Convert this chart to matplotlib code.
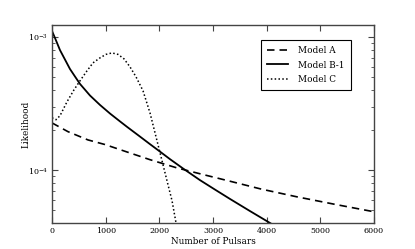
import numpy as np
import matplotlib
matplotlib.use("Agg")
import matplotlib.pyplot as plt
from matplotlib.ticker import LogLocator, FixedLocator, NullFormatter

plt.rcParams['font.family'] = ['DejaVu Serif']
plt.rcParams['mathtext.fontset'] = 'dejavuserif'

# Model A (dashed)
a_x = [0, 298, 670, 987, 1400, 1825, 2328, 2800, 3315, 3900, 4562, 5300, 6000]
a_y = [2.27e-4, 1.95e-4, 1.69e-4, 1.56e-4, 1.37e-4, 1.20e-4, 1.04e-4, 9.3e-5, 8.26e-5,
       7.2e-5, 6.3e-5, 5.5e-5, 4.86e-5]

# Model B-1 (solid)
b_x = [0, 75, 149, 242, 335, 429, 522, 708, 894, 1081, 1267, 1398, 1640, 1826,
       2012, 2199, 2441, 2758, 3037, 3317, 3689, 4081, 4248]
b_y = [1.119e-3, 9.48e-4, 8.02e-4, 6.81e-4, 5.78e-4, 5.07e-4, 4.46e-4, 3.65e-4, 3.10e-4,
       2.67e-4, 2.33e-4, 2.12e-4, 1.79e-4, 1.57e-4, 1.38e-4, 1.21e-4, 1.03e-4, 8.41e-5,
       7.14e-5, 6.07e-5, 4.92e-5, 3.96e-5, 3.60e-5]

# Model C (dotted)
c_x = [0, 75, 149, 279, 410, 522, 652, 764, 894, 1006, 1118, 1230, 1342, 1453, 1565,
       1696, 1826, 1956, 2068, 2161, 2236, 2310, 2348]
c_y = [2.48e-4, 2.40e-4, 2.57e-4, 3.27e-4, 4.03e-4, 4.71e-4, 5.60e-4, 6.43e-4, 7.01e-4,
       7.45e-4, 7.64e-4, 7.45e-4, 6.89e-4, 6.00e-4, 5.05e-4, 3.96e-4, 2.70e-4, 1.67e-4,
       1.10e-4, 7.78e-5, 5.90e-5, 4.03e-5, 3.27e-5]

fig = plt.figure(figsize=(4.15, 2.49), dpi=100)
ax = fig.add_axes([52 / 415, 1 - 223 / 249, (374 - 52) / 415, (223 - 25) / 249])

ax.plot(a_x, a_y, 'k', ls=(0, (4.5, 3)), lw=1.2, label='Model A')
ax.plot(b_x, b_y, 'k', ls='-', lw=1.3, label='Model B-1')
ax.plot(c_x, c_y, 'k', ls=(0, (1, 1.5)), lw=1.1, label='Model C')

ax.set_yscale('log')
ax.set_xlim(0, 6000)
ax.set_ylim(4.0e-5, 1.24e-3)
ax.set_xticks([0, 1000, 2000, 3000, 4000, 5000, 6000])
ax.yaxis.set_major_locator(FixedLocator([1e-4, 1e-3]))
ax.yaxis.set_major_formatter(plt.FuncFormatter(lambda v, p: r'$10^{%d}$' % int(round(np.log10(v)))))
ax.yaxis.set_minor_locator(LogLocator(base=10, subs=np.arange(2, 10)))
ax.yaxis.set_minor_formatter(NullFormatter())

for s in ax.spines.values():
    s.set_color('#444444')
    s.set_linewidth(1.0)
ax.tick_params(which='both', direction='in', top=True, right=True, colors='#444444',
               labelcolor='black', labelsize=5.8, pad=3)
ax.tick_params(which='major', length=4)
ax.tick_params(which='minor', length=2)

ax.set_xlabel('Number of Pulsars', fontsize=6.4, labelpad=1)
ax.set_ylabel('Likelihood', fontsize=6.4, labelpad=-2.5)

leg = ax.legend(loc='upper right', bbox_to_anchor=(0.929, 0.924), borderaxespad=0,
                fontsize=6.4, handlelength=2.3, handletextpad=1.2,
                fancybox=False, framealpha=1, edgecolor='black', borderpad=0.7,
                labelspacing=0.6)
leg.get_frame().set_linewidth(0.8)

fig.savefig('out.png', dpi=100)
